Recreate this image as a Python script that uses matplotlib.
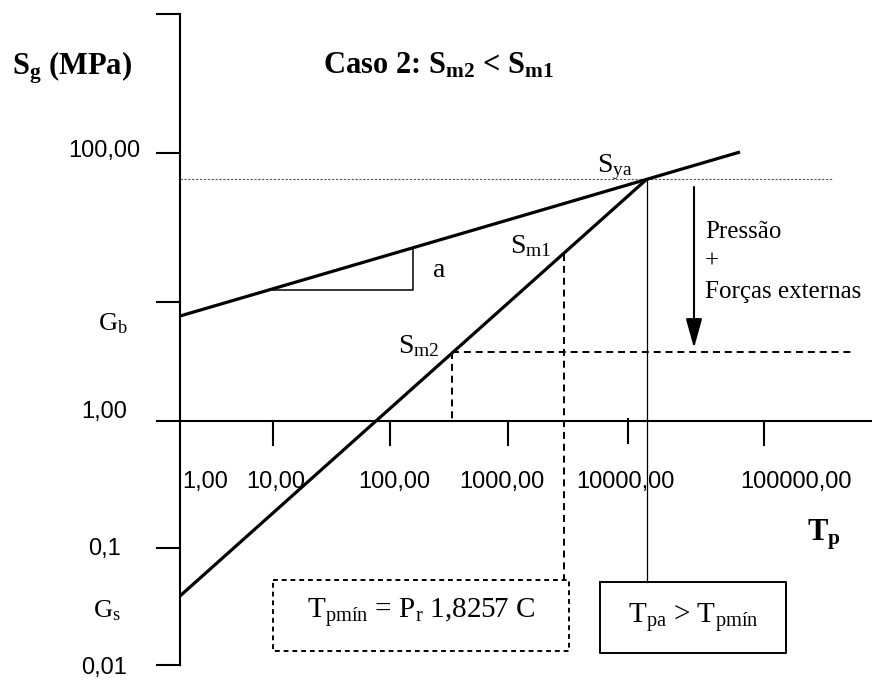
import matplotlib
matplotlib.use("Agg")
import matplotlib.pyplot as plt

plt.rcParams["mathtext.fontset"] = "custom"
plt.rcParams["mathtext.rm"] = "Liberation Serif"
plt.rcParams["mathtext.bf"] = "Liberation Serif:bold"
plt.rcParams["mathtext.it"] = "Liberation Serif:italic"

# diagram geometry (x to the right, y downward)
y_axis_x = 180
y_axis_span = [14, 665]
y_ticks = [14, 153, 302, 548, 665]
y_tick_labels = ["100,00", "1,00", "0,1", "0,01"]
y_tick_label_y = [157, 418, 555, 674]

x_axis_y = 421
x_axis_span = [157, 872]
x_ticks = [273, 390, 508, 628, 764]
x_tick_labels = ["1,00", "10,00", "100,00", "1000,00", "10000,00", "100000,00"]
x_tick_label_x = [205, 276, 394, 502, 625, 796]

# curves
upper_x = [180, 740]
upper_y = [316, 152]
lower_x = [180, 647]
lower_y = [596, 179]

sya = (647, 179)
sm1 = (564, 254)
sm2 = (452, 352)
slope_tri_x = [273, 413, 413]
slope_tri_y = [290, 290, 248]

box1 = (273, 580, 569, 651)
box2 = (600, 582, 786, 653)

serif = "Liberation Serif"
sans = "Liberation Sans"

fig = plt.figure(figsize=(8.72, 6.8), dpi=100)
ax = fig.add_axes([0, 0, 1, 1])
ax.set_xlim(0, 872)
ax.set_ylim(680, 0)
ax.axis("off")

# axes
ax.plot([y_axis_x, y_axis_x], y_axis_span, color="black", lw=1.5)
for yt in y_ticks:
    ax.plot([157, y_axis_x], [yt, yt], color="black", lw=1.5)
for lab, yy in zip(y_tick_labels, y_tick_label_y):
    ax.text(104, yy, lab, ha="center", va="baseline", fontsize=17, family=sans)

ax.plot(x_axis_span, [x_axis_y, x_axis_y], color="black", lw=1.5)
for xt in x_ticks:
    y0 = x_axis_y - 2 if xt == 628 else x_axis_y
    ax.plot([xt, xt], [y0, y0 + 24], color="black", lw=1.5)
for lab, xx in zip(x_tick_labels, x_tick_label_x):
    ax.text(xx, 488, lab, ha="center", va="baseline", fontsize=17, family=sans)

# reference lines
ax.plot([y_axis_x, 832], [sya[1], sya[1]], color="#555555", lw=0.8,
        linestyle=(0, (2, 1.5)))
dash = (0, (3.6, 2.5))
ax.plot([sm2[0], 855], [sm2[1], sm2[1]], color="black", lw=1.4, linestyle=dash)
ax.plot([sm2[0], sm2[0]], [sm2[1], x_axis_y], color="black", lw=1.4, linestyle=dash)
ax.plot([sm1[0], sm1[0]], [sm1[1], box1[1]], color="black", lw=1.4, linestyle=dash)
ax.plot([sya[0], sya[0]], [sya[1], box2[1]], color="black", lw=0.9)

# main curves
ax.plot(upper_x, upper_y, color="black", lw=2.3, solid_capstyle="butt")
ax.plot(lower_x, lower_y, color="black", lw=2.3, solid_capstyle="butt")
ax.plot(slope_tri_x, slope_tri_y, color="black", lw=1.1)

# arrow
ax.annotate("", xy=(694, 348), xytext=(694, 187),
            arrowprops=dict(arrowstyle="-|>,head_length=0.9,head_width=0.25",
                            mutation_scale=20, lw=1.5, color="black",
                            shrinkA=0, shrinkB=0))

# boxes
ax.plot([box1[0], box1[2], box1[2], box1[0], box1[0]],
        [box1[1], box1[1], box1[3], box1[3], box1[1]],
        color="black", lw=1.4, linestyle=(0, (2.5, 2)))
ax.plot([box2[0], box2[2], box2[2], box2[0], box2[0]],
        [box2[1], box2[1], box2[3], box2[3], box2[1]],
        color="black", lw=1.4)

# text
ax.text(12, 75, r"$\mathbf{S_g}$ (MPa)", fontsize=22, family=serif,
        weight="bold", va="baseline")
ax.text(323, 73, r"Caso 2: $\mathbf{S_{m2}}$ < $\mathbf{S_{m1}}$", fontsize=22,
        family=serif, weight="bold", va="baseline")
ax.text(807, 541, r"$\mathbf{T_p}$", fontsize=22, va="baseline")
ax.text(98, 330, r"$\mathrm{G_b}$", fontsize=19, va="baseline")
ax.text(93, 617, r"$\mathrm{G_s}$", fontsize=19, va="baseline")
ax.text(597, 172, r"$\mathrm{S_{ya}}$", fontsize=20, va="baseline")
ax.text(510, 253, r"$\mathrm{S_{m1}}$", fontsize=20, va="baseline")
ax.text(398, 353, r"$\mathrm{S_{m2}}$", fontsize=20, va="baseline")
ax.text(433, 277, "a", fontsize=20, family=serif, va="baseline")
ax.text(705, 238, "Pressão", fontsize=18, family=serif, va="baseline")
ax.text(705, 268, "+", fontsize=18, family=serif, va="baseline")
ax.text(705, 298, "Forças externas", fontsize=18, family=serif, va="baseline")
ax.text(421, 618, r"$\mathrm{T_{pmín}}$ = $\mathrm{P_r}$ 1,8257 C", fontsize=21,
        family=serif, ha="center", va="baseline")
ax.text(693, 623, r"$\mathrm{T_{pa}}$ > $\mathrm{T_{pmín}}$", fontsize=21,
        family=serif, ha="center", va="baseline")

fig.savefig("out.png", dpi=100)
